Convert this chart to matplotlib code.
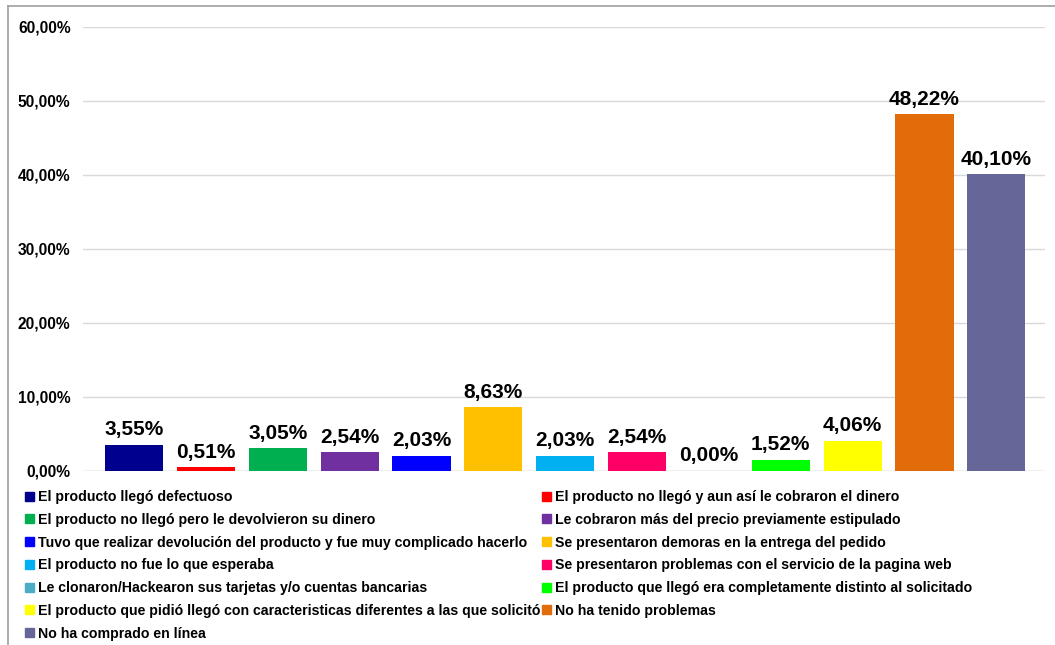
import matplotlib.pyplot as plt
from matplotlib.lines import Line2D
from matplotlib.patches import Patch
from matplotlib.ticker import FuncFormatter

plt.rcParams['font.family'] = ['Liberation Sans', 'DejaVu Sans']
plt.rcParams['font.weight'] = 'bold'

categories = [
    "El producto llegó defectuoso",
    "El producto no llegó y aun así le cobraron el dinero",
    "El producto no llegó pero le devolvieron su dinero",
    "Le cobraron más del precio previamente estipulado",
    "Tuvo que realizar devolución del producto y fue muy complicado hacerlo",
    "Se presentaron demoras en la entrega del pedido",
    "El producto no fue lo que esperaba",
    "Se presentaron problemas con el servicio de la pagina web",
    "Le clonaron/Hackearon sus tarjetas y/o cuentas bancarias",
    "El producto que llegó era completamente distinto al solicitado",
    "El producto que pidió llegó con caracteristicas diferentes a las que solicitó",
    "No ha tenido problemas",
    "No ha comprado en línea",
]
values = [3.55, 0.51, 3.05, 2.54, 2.03, 8.63, 2.03, 2.54, 0.00, 1.52, 4.06, 48.22, 40.10]
colors = ["#00008E", "#FF0000", "#00B050", "#7030A0", "#0000FF", "#FFC000",
          "#00B0F0", "#FF0066", "#4BACC6", "#00FF00", "#FFFF00", "#E36C0A", "#666699"]

fig = plt.figure(figsize=(10.55, 6.45), dpi=100)
ax = fig.add_axes([0.0787, 0.2698, 0.912, 0.6884])

x = range(len(values))
ax.bar(x, values, width=0.81, color=colors, zorder=3)

def pct(v):
    return f"{v:.2f}".replace(".", ",") + "%"

for i, v in enumerate(values):
    ax.annotate(pct(v), (i, v), xytext=(0, 4), textcoords="offset points",
                ha="center", va="bottom", fontsize=15, fontweight="bold")

ax.set_ylim(0, 60)
ax.set_xlim(-0.71, 12.68)
ax.set_yticks(range(0, 61, 10))
ax.yaxis.set_major_formatter(FuncFormatter(lambda v, p: pct(v)))
ax.tick_params(axis="y", length=0, labelsize=11.2, pad=9)
ax.set_xticks([])
ax.grid(axis="y", color="#D9D9D9", linewidth=1, zorder=0)
for s in ax.spines.values():
    s.set_visible(False)
ax.axhline(0, color="#D9D9D9", linewidth=1, zorder=2)

# legend rows read left-to-right, so feed the columns in order
handles = [Patch(color=c) for c in colors]
order = list(range(0, 13, 2)) + list(range(1, 13, 2))
ax.legend([handles[i] for i in order], [categories[i] for i in order],
          ncol=2, loc="upper left", bbox_to_anchor=(25 / 1055, 1 - 490 / 645),
          bbox_transform=fig.transFigure, frameon=False, fontsize=10.2,
          handlelength=0.6, handleheight=0.6, handletextpad=0.3,
          columnspacing=0.15, labelspacing=0.62, borderpad=0, borderaxespad=0)

# thin frame on the left and top
fig.add_artist(Line2D([8 / 1055, 8 / 1055], [0, 1 - 6 / 645], color="#A0A0A0", lw=1.2))
fig.add_artist(Line2D([8 / 1055, 1], [1 - 6 / 645, 1 - 6 / 645], color="#A0A0A0", lw=1.2))

fig.savefig("out.png", dpi=100)
